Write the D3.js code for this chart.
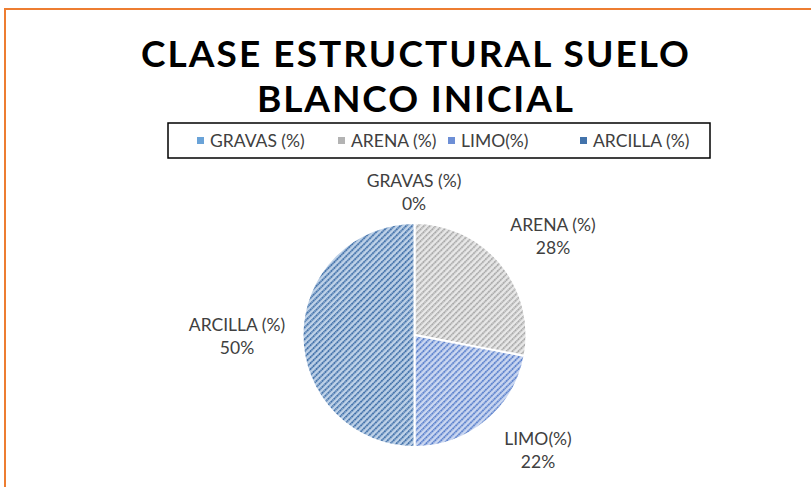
<!DOCTYPE html>
<html><head><meta charset="utf-8">
<script src="https://cdn.jsdelivr.net/npm/d3@7"></script>
<style>body{margin:0;background:#fff}svg{display:block}</style>
</head><body>
<script>
const categories = ["GRAVAS (%)", "ARENA (%)", "LIMO(%)", "ARCILLA (%)"];
const values = [0, 28, 22, 50];
const percentLabels = ["0%", "28%", "22%", "50%"];
const titleLines = ["CLASE ESTRUCTURAL SUELO", "BLANCO INICIAL"];

const W = 811, H = 487;
const svg = d3.select("body").append("svg").attr("width", W).attr("height", H);

svg.append("rect").attr("x", 0).attr("y", 0).attr("width", W).attr("height", H).attr("fill", "#fff");
svg.append("path").attr("d", `M5,${H} V9 H${W}`).attr("fill", "none").attr("stroke", "#ed7d31").attr("stroke-width", 2);

const fills = [
  {bg: "#c9dcf0", fg: "#5b9bd5", solid: "#6aa3d8"},
  {bg: "#e8e8e8", fg: "#a9a9a9", solid: "#b3b3b3"},
  {bg: "#ccd8f1", fg: "#5a80cc", solid: "#6d8fd6"},
  {bg: "#bfd2e8", fg: "#3f6fa8", solid: "#4373ab"}
];
const defs = svg.append("defs");
fills.forEach((f, i) => {
  const p = defs.append("pattern").attr("id", "pat" + i).attr("patternUnits", "userSpaceOnUse")
    .attr("width", 4.2).attr("height", 4.2).attr("patternTransform", "rotate(45)");
  p.append("rect").attr("width", 4.2).attr("height", 4.2).attr("fill", f.bg);
  p.append("line").attr("x1", 1).attr("x2", 1).attr("y1", 0).attr("y2", 4.2)
    .attr("stroke", f.fg).attr("stroke-width", 1.8).attr("stroke-dasharray", "1.6 0.5");
});

// title
const title = svg.append("g").attr("font-family", "Lato, sans-serif").attr("font-weight", "bold")
  .attr("font-size", 37).attr("fill", "#000").attr("text-anchor", "middle");
const titleLens = [548, 316];
const titleY = [67, 112];
titleLines.forEach((t, i) => {
  title.append("text").attr("x", 415).attr("y", titleY[i]).attr("textLength", titleLens[i])
    .attr("lengthAdjust", "spacing").text(t);
});

// legend
svg.append("rect").attr("x", 168).attr("y", 123).attr("width", 542).attr("height", 35)
  .attr("fill", "none").attr("stroke", "#000").attr("stroke-width", 1.5);
const legX = [197, 338, 448, 580];
const leg = svg.append("g").attr("font-family", "Lato, sans-serif").attr("font-size", 17.5).attr("fill", "#404040");
categories.forEach((c, i) => {
  leg.append("rect").attr("x", legX[i]).attr("y", 137).attr("width", 7).attr("height", 7).attr("fill", fills[i].solid);
  leg.append("text").attr("x", legX[i] + 13).attr("y", 147).text(c);
});

// pie
const cx = 414.5, cy = 335, r = 112;
const pie = d3.pie().sort(null).value(d => d)(values);
const arc = d3.arc().innerRadius(0).outerRadius(r);
const g = svg.append("g").attr("transform", `translate(${cx},${cy})`);
g.selectAll("path").data(pie).join("path")
  .attr("d", arc).attr("fill", (d, i) => `url(#pat${i})`)
  .attr("stroke", "#fff").attr("stroke-width", 2).attr("stroke-linejoin", "round");

// data labels
const labelPos = [[414, 187], [553, 231], [538, 445], [237, 331]];
const lab = svg.append("g").attr("font-family", "Lato, sans-serif").attr("font-size", 17.5)
  .attr("fill", "#404040").attr("text-anchor", "middle");
categories.forEach((c, i) => {
  const [x, y] = labelPos[i];
  lab.append("text").attr("x", x).attr("y", y).text(c);
  lab.append("text").attr("x", x).attr("y", y + 23).text(percentLabels[i]);
});
</script>
</body></html>
